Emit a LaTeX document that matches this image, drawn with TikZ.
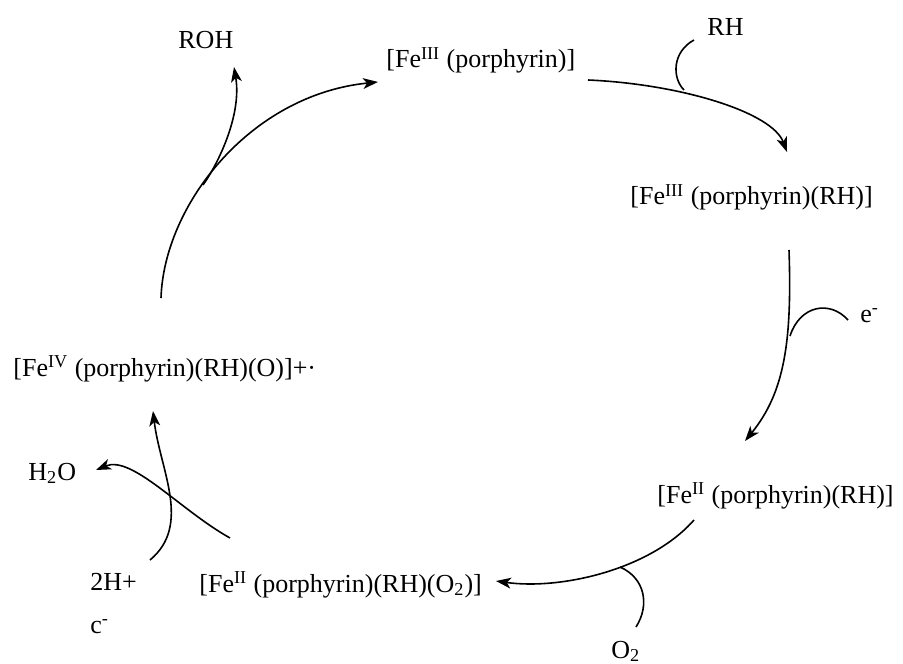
\documentclass[tikz,border=0pt]{standalone}
\usepackage{fontspec}
\setmainfont{Liberation Serif}
\usetikzlibrary{arrows.meta}

\begin{document}
\begin{tikzpicture}[%%
  x=0.5pt, y=-0.5pt,
  arrowStyle/.style={-{Stealth[length=7.5pt,width=5.4pt,inset=2pt]},line width=0.8pt},
  hookStyle/.style={-,line width=0.8pt},
  speciesStyle/.style={anchor=base west,inner sep=0pt,font=\fontsize{13}{15}\selectfont}%%
]
\useasboundingbox (0,0) rectangle (903,663);
%%
%% The species of the cycle and the side reagents.
\node[speciesStyle] (feThree) at (386,68) {[Fe\textsuperscript{III} (porphyrin)]};
\node[speciesStyle] (feThreeRH) at (630,205) {[Fe\textsuperscript{III} (porphyrin)(RH)]};
\node[speciesStyle] (feTwoRH) at (657,503) {[Fe\textsuperscript{II} (porphyrin)(RH)]};
\node[speciesStyle] (feTwoOxy) at (199,592) {[Fe\textsuperscript{II} (porphyrin)(RH)(O\textsubscript{2})]};
\node[speciesStyle] (feFour) at (13,376) {[Fe\textsuperscript{IV} (porphyrin)(RH)(O)]+·};
\node[speciesStyle] (roh) at (178,49) {ROH};
\node[speciesStyle] (rh) at (707,36) {RH};
\node[speciesStyle] (electron) at (860,322) {e\textsuperscript{-}};
\node[speciesStyle] (oxygen) at (611,658) {O\textsubscript{2}};
\node[speciesStyle] (protons) at (90,590) {2H+};
\node[speciesStyle] (cMinus) at (90,633) {c\textsuperscript{-}};
\node[speciesStyle] (water) at (28,480) {H\textsubscript{2}O};
%%
%% Free ends of the connectors.
\coordinate (fourOut) at (161,298);
\coordinate (threeIn) at (378,82);
\coordinate (rohOut) at (203,185);
\coordinate (rohIn) at (234,67);
\coordinate (threeOut) at (588,80);
\coordinate (threeRHIn) at (787,152);
\coordinate (rhOut) at (694,40);
\coordinate (rhIn) at (684,90);
\coordinate (threeRHOut) at (789,250);
\coordinate (twoRHIn) at (745,441);
\coordinate (eOut) at (848,320);
\coordinate (eIn) at (790,336);
\coordinate (twoRHOut) at (694,520);
\coordinate (oxyIn) at (496,581);
\coordinate (oOut) at (636,627);
\coordinate (oIn) at (620,567);
\coordinate (oxyOut) at (230,538);
\coordinate (waterIn) at (96,470);
\coordinate (hOut) at (150,560);
\coordinate (fourIn) at (153,411);
%%
%% The cycle.
\draw[arrowStyle] (fourOut) .. controls (164,205) and (250,95) .. (threeIn);
\draw[arrowStyle] (threeOut) .. controls (680,84) and (772,112) .. (threeRHIn);
\draw[arrowStyle] (threeRHOut) .. controls (792,340) and (785,392) .. (twoRHIn);
\draw[arrowStyle] (twoRHOut) .. controls (650,570) and (560,590) .. (oxyIn);
\draw[arrowStyle] (hOut) .. controls (192,525) and (160,470) .. (fourIn);
%%
%% Reagents in and products out.
\draw[arrowStyle] (rohOut) .. controls (218,164) and (242,115) .. (rohIn);
\draw[hookStyle] (rhOut) .. controls (672,52) and (672,78) .. (rhIn);
\draw[hookStyle] (eOut) .. controls (830,300) and (800,305) .. (eIn);
\draw[hookStyle] (oOut) .. controls (650,605) and (645,578) .. (oIn);
\draw[arrowStyle] (oxyOut) .. controls (180,510) and (132,455) .. (waterIn);
\end{tikzpicture}
\end{document}
